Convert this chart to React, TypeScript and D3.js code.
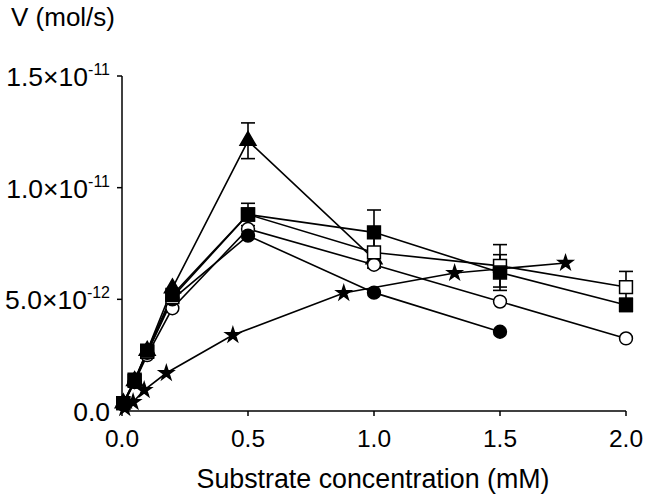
import React, { useEffect, useRef } from 'react';
import * as d3 from 'd3';

// substrate concentrations (mM)
const conc = [0.005, 0.05, 0.1, 0.2, 0.5, 1.0, 1.5, 2.0];
const starConc = [0.011, 0.044, 0.088, 0.176, 0.44, 0.88, 1.32, 1.76];

// velocities (mol/s)
const triangleV = [0.35e-12, 1.35e-12, 2.7e-12, 5.5e-12, 12.1e-12, 6.8e-12];
const triangleErr = [0, 0, 0, 0, 0.8e-12, 0];
const openCircleV = [0.3e-12, 1.3e-12, 2.5e-12, 4.6e-12, 8.15e-12, 6.55e-12, 4.9e-12, 3.25e-12];
const openCircleErr = [0, 0, 0, 0, 0, 0, 0, 0];
const filledCircleV = [0.3e-12, 1.3e-12, 2.6e-12, 5.0e-12, 7.85e-12, 5.3e-12, 3.55e-12];
const filledCircleErr = [0, 0, 0, 0, 0, 0, 0];
const openSquareV = [0.35e-12, 1.35e-12, 2.65e-12, 5.1e-12, 8.8e-12, 7.1e-12, 6.5e-12, 5.55e-12];
const openSquareErr = [0, 0, 0, 0, 0, 0.7e-12, 0.95e-12, 0.7e-12];
const filledSquareV = [0.35e-12, 1.4e-12, 2.7e-12, 5.2e-12, 8.8e-12, 8.0e-12, 6.2e-12, 4.75e-12];
const filledSquareErr = [0, 0, 0, 0, 0.5e-12, 1.0e-12, 0.8e-12, 0.3e-12];
const starV = [0.13e-12, 0.4e-12, 0.94e-12, 1.7e-12, 3.4e-12, 5.28e-12, 6.18e-12, 6.63e-12];
const starErr = [0, 0, 0, 0, 0, 0, 0, 0];

const xTicks = [0, 0.5, 1.0, 1.5, 2.0];
const xTickLabels = ['0.0', '0.5', '1.0', '1.5', '2.0'];
const yTicks = [0, 5e-12, 1e-11, 1.5e-11];
const yTickMantissa = ['0.0', '5.0', '1.0', '1.5'];
const yTickExponent = ['', '-12', '-11', '-11'];

const FONT = '"Liberation Sans", Arial, Helvetica, sans-serif';

const series = [
  { xs: conc, ys: triangleV, err: triangleErr, symbol: d3.symbolTriangle, size: 110, fill: 'black' },
  { xs: conc, ys: openCircleV, err: openCircleErr, symbol: d3.symbolCircle, size: 130, fill: 'white' },
  { xs: conc, ys: filledCircleV, err: filledCircleErr, symbol: d3.symbolCircle, size: 130, fill: 'black' },
  { xs: conc, ys: openSquareV, err: openSquareErr, symbol: d3.symbolSquare, size: 165, fill: 'white' },
  { xs: conc, ys: filledSquareV, err: filledSquareErr, symbol: d3.symbolSquare, size: 165, fill: 'black' },
  { xs: starConc, ys: starV, err: starErr, symbol: d3.symbolStar, size: 65, fill: 'black' }
];

const drawChart = (el: SVGSVGElement) => {
  const svg = d3.select(el);
  svg.selectAll('*').remove();

  const x = d3.scaleLinear().domain([0, 2]).range([122, 626]);
  const y = d3.scaleLinear().domain([0, 1.5e-11]).range([411, 76]);

  // axes
  svg.append('line')
    .attr('x1', x(0)).attr('x2', x(0))
    .attr('y1', y(0)).attr('y2', y(1.5e-11))
    .attr('stroke', 'black').attr('stroke-width', 1.5);
  svg.append('line')
    .attr('x1', x(0)).attr('x2', x(2))
    .attr('y1', y(0)).attr('y2', y(0))
    .attr('stroke', 'black').attr('stroke-width', 1.5);

  // x ticks
  xTicks.forEach((t, i) => {
    svg.append('line')
      .attr('x1', x(t)).attr('x2', x(t))
      .attr('y1', y(0)).attr('y2', y(0) + 5)
      .attr('stroke', 'black').attr('stroke-width', 1.5);
    svg.append('text')
      .attr('x', x(t)).attr('y', 447)
      .attr('text-anchor', 'middle')
      .attr('font-family', FONT).attr('font-size', 24.5)
      .text(xTickLabels[i]);
  });

  // y ticks
  yTicks.forEach((t, i) => {
    if (t > 0) {
      svg.append('line')
        .attr('x1', x(0) - 5).attr('x2', x(0))
        .attr('y1', y(t)).attr('y2', y(t))
        .attr('stroke', 'black').attr('stroke-width', 1.5);
    }
    const label = svg.append('text')
      .attr('x', 110).attr('y', y(t) + 10)
      .attr('text-anchor', 'end')
      .attr('font-family', FONT).attr('font-size', 26.5);
    label.append('tspan').text(yTickMantissa[i]);
    if (yTickExponent[i]) {
      label.append('tspan').text('\u00d710');
      label.append('tspan')
        .attr('dy', -11).attr('font-size', 16)
        .text(yTickExponent[i]);
    }
  });

  // axis titles
  svg.append('text')
    .attr('x', 11).attr('y', 26)
    .attr('font-family', FONT).attr('font-size', 26)
    .text('V (mol/s)');
  svg.append('text')
    .attr('x', 373).attr('y', 488)
    .attr('text-anchor', 'middle')
    .attr('font-family', FONT).attr('font-size', 26.8)
    .text('Substrate concentration (mM)');

  const line = d3.line<[number, number]>()
    .x(d => x(d[0]))
    .y(d => y(d[1]));

  // connecting lines
  series.forEach(s => {
    const pts = s.ys.map((v, i) => [s.xs[i], v] as [number, number]);
    svg.append('path')
      .attr('d', line(pts))
      .attr('fill', 'none')
      .attr('stroke', 'black')
      .attr('stroke-width', 1.6);
  });

  // error bars
  series.forEach(s => {
    s.ys.forEach((v, i) => {
      const e = s.err[i];
      if (!e) return;
      const cx = x(s.xs[i]);
      const g = svg.append('g').attr('stroke', 'black').attr('stroke-width', 1.6);
      g.append('line').attr('x1', cx).attr('x2', cx).attr('y1', y(v - e)).attr('y2', y(v + e));
      g.append('line').attr('x1', cx - 7).attr('x2', cx + 7).attr('y1', y(v + e)).attr('y2', y(v + e));
      g.append('line').attr('x1', cx - 7).attr('x2', cx + 7).attr('y1', y(v - e)).attr('y2', y(v - e));
    });
  });

  // markers
  series.forEach(s => {
    const path = d3.symbol().type(s.symbol).size(s.size)();
    s.ys.forEach((v, i) => {
      svg.append('path')
        .attr('d', path)
        .attr('transform', `translate(${x(s.xs[i])},${y(v)})`)
        .attr('fill', s.fill)
        .attr('stroke', 'black')
        .attr('stroke-width', 1.5);
    });
  });
};

const App = () => {
  const ref = useRef<SVGSVGElement>(null);

  useEffect(() => {
    if (ref.current) drawChart(ref.current);
  }, []);

  return (
    <svg
      ref={ref}
      width={646}
      height={497}
      style={{ position: 'absolute', left: 0, top: 0, background: 'white' }}
    />
  );
};

export default App;
